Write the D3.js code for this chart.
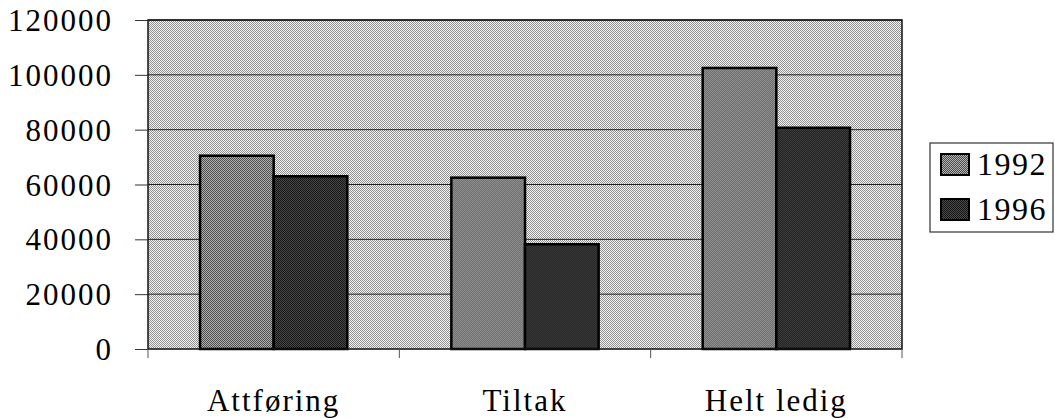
<!DOCTYPE html>
<html>
<head>
<meta charset="utf-8">
<script src="https://cdn.jsdelivr.net/npm/d3@7"></script>
<style>
body{margin:0;background:#fff;}
text{font-family:"Liberation Serif","Times New Roman",serif;fill:#000;}
</style>
</head>
<body>
<svg id="chart" width="1055" height="418"></svg>
<script>
// data
var categories = ["Attføring", "Tiltak", "Helt ledig"];
var years = ["1992", "1996"];
var values1992 = [70500, 62500, 102500];
var values1996 = [63000, 38200, 80700];
var yTicks = [0, 20000, 40000, 60000, 80000, 100000, 120000];

var rows = categories.map(function(c, i){
    return {cat: c, vals: [{year: "1992", v: values1992[i]}, {year: "1996", v: values1996[i]}]};
});

var svg = d3.select("#chart");
var plot = {left: 148, right: 902, top: 20, bottom: 349};

// dithered fills like the old print
var defs = svg.append("defs");
var makePattern = function(id, base, dot){
    var p = defs.append("pattern").attr("id", id)
        .attr("width", 2).attr("height", 2)
        .attr("patternUnits", "userSpaceOnUse");
    p.append("rect").attr("width", 2).attr("height", 2).attr("fill", base);
    p.append("rect").attr("width", 1).attr("height", 1).attr("fill", dot);
    p.append("rect").attr("x", 1).attr("y", 1).attr("width", 1).attr("height", 1).attr("fill", dot);
};
makePattern("bg", "#f4f4f4", "#909090");
makePattern("p1992", "#b4b4b4", "#4a4a4a");
makePattern("p1996", "#4a4a4a", "#151515");
var fills = {"1992": "url(#p1992)", "1996": "url(#p1996)"};

var xScale = d3.scaleBand()
    .domain(categories)
    .range([plot.left, plot.right])
    .paddingInner(0.414)
    .paddingOuter(0.207);
var xInner = d3.scaleBand()
    .domain(years)
    .range([0, xScale.bandwidth()]);
var yScale = d3.scaleLinear()
    .domain([0, 120000])
    .range([plot.bottom, plot.top]);

// background
svg.append("rect")
    .attr("x", plot.left).attr("y", plot.top)
    .attr("width", plot.right - plot.left)
    .attr("height", plot.bottom - plot.top)
    .attr("fill", "url(#bg)");

// gridlines
svg.selectAll(".grid")
    .data(yTicks.slice(1))
    .enter()
    .append("line")
    .attr("x1", plot.left).attr("x2", plot.right)
    .attr("y1", function(d){ return yScale(d); })
    .attr("y2", function(d){ return yScale(d); })
    .attr("stroke", "#222")
    .attr("stroke-width", 1);

// bars
var groups = svg.selectAll(".grp")
    .data(rows)
    .enter()
    .append("g")
    .attr("transform", function(d){ return "translate(" + xScale(d.cat) + ",0)"; });
groups.selectAll("rect")
    .data(function(d){ return d.vals; })
    .enter()
    .append("rect")
    .attr("x", function(d){ return xInner(d.year); })
    .attr("y", function(d){ return yScale(d.v); })
    .attr("width", xInner.bandwidth())
    .attr("height", function(d){ return yScale(0) - yScale(d.v); })
    .attr("fill", function(d){ return fills[d.year]; })
    .attr("stroke", "#000")
    .attr("stroke-width", 2.5);

// frame
svg.append("rect")
    .attr("x", plot.left).attr("y", plot.top)
    .attr("width", plot.right - plot.left)
    .attr("height", plot.bottom - plot.top)
    .attr("fill", "none")
    .attr("stroke", "#111")
    .attr("stroke-width", 1.5);

// y axis
var yAxis = d3.axisLeft(yScale)
    .tickValues(yTicks)
    .tickSize(13)
    .tickPadding(22)
    .tickFormat(d3.format("d"));
var gy = svg.append("g")
    .attr("transform", "translate(" + plot.left + ",0)")
    .call(yAxis);
gy.select(".domain").remove();
gy.selectAll("line").attr("stroke", "#333");
gy.selectAll("text")
    .style("font-family", "Liberation Serif")
    .style("font-size", "31px")
    .style("letter-spacing", "2px")
    .attr("dy", "0.34em");

// x axis: ticks at category borders, labels centred
var step = xScale.step();
var borders = categories.map(function(c){ return xScale(c) - step * 0.207; });
borders.push(plot.right);
svg.selectAll(".xtick")
    .data(borders)
    .enter()
    .append("line")
    .attr("x1", function(d){ return d; }).attr("x2", function(d){ return d; })
    .attr("y1", plot.bottom).attr("y2", plot.bottom + 9)
    .attr("stroke", "#555");
svg.selectAll(".xlab")
    .data(categories)
    .enter()
    .append("text")
    .attr("x", function(d){ return xScale(d) + xScale.bandwidth() / 2; })
    .attr("y", 411)
    .attr("text-anchor", "middle")
    .style("font-size", "31px")
    .style("letter-spacing", "2px")
    .text(function(d){ return d; });

// legend
var legend = svg.append("g");
legend.append("rect")
    .attr("x", 930).attr("y", 143)
    .attr("width", 123).attr("height", 89)
    .attr("fill", "#fff")
    .attr("stroke", "#333")
    .attr("stroke-width", 1.2);
var items = legend.selectAll(".item")
    .data(years)
    .enter()
    .append("g")
    .attr("transform", function(d, i){ return "translate(941," + (154 + i * 45) + ")"; });
items.append("rect")
    .attr("width", 28).attr("height", 21)
    .attr("fill", function(d){ return fills[d]; })
    .attr("stroke", "#000")
    .attr("stroke-width", 2);
items.append("text")
    .attr("x", 36).attr("y", 21)
    .style("font-size", "32px")
    .style("letter-spacing", "1.5px")
    .text(function(d){ return d; });
</script>
</body>
</html>
